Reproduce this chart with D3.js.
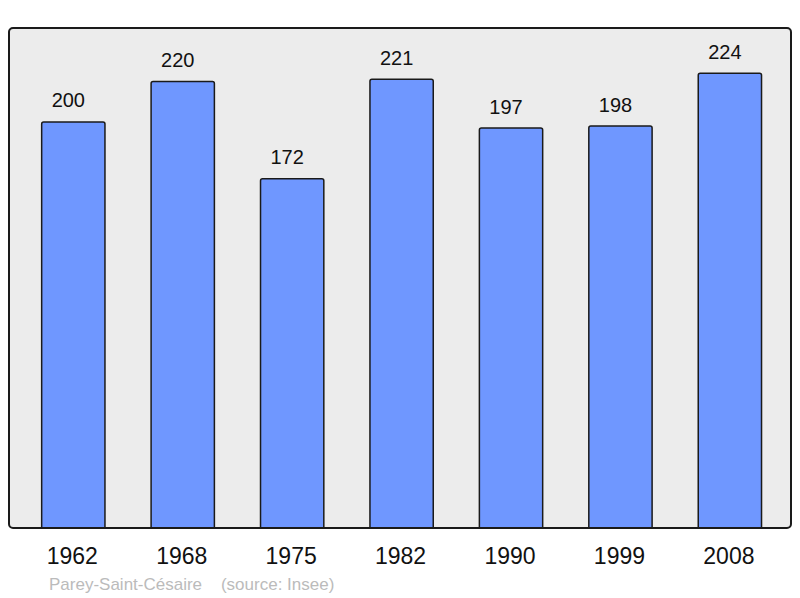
<!DOCTYPE html>
<html lang="en">
<head>
  <meta charset="UTF-8">
  <title>Population</title>
  <script src="https://d3js.org/d3.v7.min.js"></script>
  <style>
    body { margin: 0; background: #fff; }
    svg { display: block; font-family: "Liberation Sans", Arial, sans-serif; }
  </style>
</head>
<body>
  <div id="chart"></div>
  <script>
    // Data
    const years = ["1962", "1968", "1975", "1982", "1990", "1999", "2008"];
    const population = [200, 220, 172, 221, 197, 198, 224];
    const footer = "Parey-Saint-Césaire    (source: Insee)";

    var width = 800, height = 598;
    var panel = { x0: 9, y0: 28, x1: 791, y1: 528 };

    var svg = d3.select("#chart").append("svg")
      .attr("width", width)
      .attr("height", height);

    var x = d3.scaleBand()
      .domain(years)
      .range([18.6, 784.6])
      .paddingInner(0.4216)
      .paddingOuter(0.2108);

    var y = d3.scaleLinear()
      .domain([0, 246.3])
      .range([panel.y1, panel.y0]);

    // panel background
    svg.append("rect")
      .attr("x", panel.x0).attr("y", panel.y0)
      .attr("width", panel.x1 - panel.x0)
      .attr("height", panel.y1 - panel.y0)
      .attr("rx", 4)
      .style("fill", "#ececec");

    // bars, rounded at the top only
    function barPath(d, i) {
      var x0 = x(d), x1 = x(d) + x.bandwidth();
      var t = y(population[i]), b = y(0), r = 2;
      return "M" + x0 + "," + b + "V" + (t + r) + "Q" + x0 + "," + t + " " + (x0 + r) + "," + t +
        "H" + (x1 - r) + "Q" + x1 + "," + t + " " + x1 + "," + (t + r) + "V" + b + "Z";
    }

    svg.append("g")
      .selectAll("path")
      .data(years)
      .enter()
      .append("path")
      .attr("d", barPath)
      .style("fill", "#6f97ff")
      .style("stroke", "#1a1a1a")
      .style("stroke-width", 1.5);

    // value labels (sit a little left of the bar centre, as in the original)
    svg.append("g")
      .selectAll("text")
      .data(years)
      .enter()
      .append("text")
      .attr("x", function (d) { return x(d) + x.bandwidth() / 2 - 5; })
      .attr("y", function (d, i) { return y(population[i]) - 14.5; })
      .attr("text-anchor", "middle")
      .style("font-size", "20px")
      .style("fill", "#111")
      .text(function (d, i) { return population[i]; });

    // panel border on top
    svg.append("rect")
      .attr("x", panel.x0).attr("y", panel.y0)
      .attr("width", panel.x1 - panel.x0)
      .attr("height", panel.y1 - panel.y0)
      .attr("rx", 4)
      .style("fill", "none")
      .style("stroke", "#1a1a1a")
      .style("stroke-width", 2);

    // year labels
    svg.append("g")
      .selectAll("text")
      .data(years)
      .enter()
      .append("text")
      .attr("x", function (d) { return x(d) + x.bandwidth() / 2 - 1; })
      .attr("y", 564)
      .attr("text-anchor", "middle")
      .style("font-size", "23px")
      .style("fill", "#111")
      .text(function (d) { return d; });

    svg.append("text")
      .attr("x", 49)
      .attr("y", 590)
      .style("font-size", "17px")
      .style("fill", "#bbbbbb")
      .style("white-space", "pre")
      .attr("xml:space", "preserve")
      .text(footer);
  </script>
</body>
</html>
